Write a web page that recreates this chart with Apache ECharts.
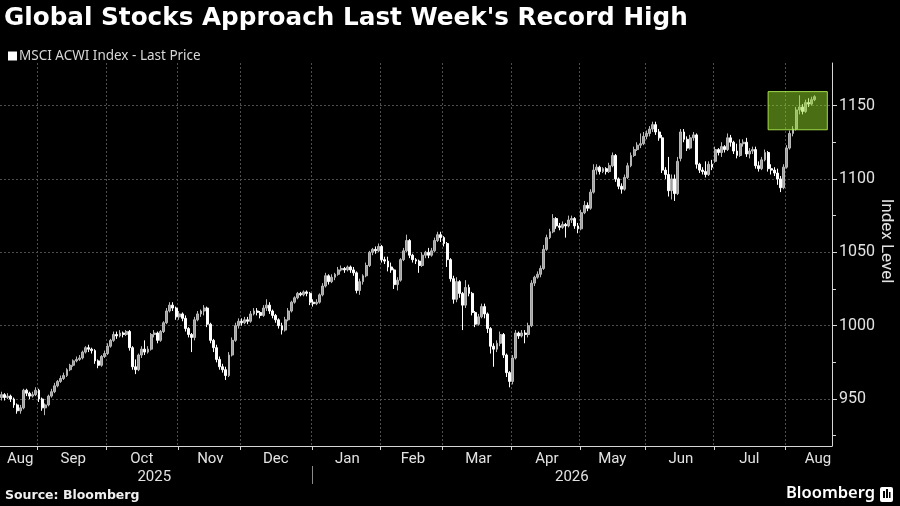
<!DOCTYPE html>
<html>
<head>
<meta charset="utf-8">
<title>Global Stocks Approach Last Week's Record High</title>
<script src="https://cdn.jsdelivr.net/npm/echarts@6/dist/echarts.min.js"></script>
<style>
    html, body { margin: 0; padding: 0; background: #000; }
    #chart { width: 900px; height: 506px; }
</style>
</head>
<body>
<div id="chart"></div>
<script>
// one row per trading day: [open, close, low, high]
var aug25 = [[951,953,949,955],[953,951,949,954],[951,952,950,954],[952,950,948,953],[950,946,944,951],[946,942,940,947],[942,944,940,946],[944,956,943,957],[956,954,952,957],[954,952,950,955],[952,953,951,955],[953,956,952,958]];
var sep25 = [[956,950,948,957],[950,944,942,951],[944,946,939,947],[946,952,945,953],[952,955,951,957],[955,959,954,961],[959,962,958,963],[962,964,961,966],[964,966,963,968],[966,970,965,971],[970,973,969,974],[973,976,972,977],[976,977,975,979],[977,978,976,980],[978,982,977,983],[982,985,981,986],[985,984,982,987],[984,983,981,985],[983,976,974,984],[976,973,971,977],[973,979,972,980],[979,981,978,983]];
var oct25 = [[981,986,980,988],[986,990,985,991],[990,994,989,996],[994,993,991,996],[993,995,992,997],[995,994,992,996],[994,996,993,997],[996,985,983,997],[985,972,970,986],[972,970,967,977],[970,980,969,981],[980,984,978,986],[984,982,980,990],[982,984,981,986],[984,994,983,995],[994,995,992,997],[995,990,988,996],[990,996,989,997],[996,1002,995,1003],[1002,1010,1001,1012],[1010,1014,1009,1016],[1014,1012,1010,1016],[1012,1006,1004,1013]];
var nov25 = [[1006,1008,1004,1010],[1008,1005,1003,1009],[1005,998,996,1007],[998,994,992,999],[994,992,982,995],[992,1004,990,1006],[1004,1008,1003,1010],[1008,1010,1006,1011],[1010,1012,1007,1014],[1012,1001,999,1013],[1001,990,988,1002],[990,985,982,991],[985,977,975,987],[977,972,970,979],[972,970,968,974],[970,966,963,972],[966,980,965,982],[980,990,979,992],[990,1000,989,1002],[1000,1003,998,1005]];
var dec25 = [[1003,1002,1000,1005],[1002,1004,1001,1006],[1004,1003,1001,1006],[1003,1008,1002,1010],[1008,1010,1007,1012],[1010,1009,1007,1012],[1009,1007,1005,1010],[1007,1012,1006,1014],[1012,1014,1010,1018],[1014,1010,1008,1016],[1010,1007,1005,1011],[1007,1004,1002,1008],[1004,1000,998,1005],[1000,997,994,1002],[997,1004,996,1006],[1004,1010,1003,1012],[1010,1016,1009,1017],[1016,1019,1015,1020],[1019,1022,1018,1023],[1022,1021,1020,1023],[1021,1023,1020,1024],[1023,1022,1020,1024],[1022,1016,1014,1023]];
var jan26 = [[1016,1015,1013,1018],[1015,1016,1014,1018],[1016,1021,1015,1022],[1021,1027,1020,1029],[1027,1034,1026,1036],[1034,1030,1028,1035],[1030,1033,1029,1035],[1033,1035,1031,1036],[1035,1038,1034,1040],[1038,1039,1037,1041],[1039,1038,1036,1040],[1038,1040,1037,1041],[1040,1038,1036,1041],[1038,1036,1034,1040],[1036,1024,1022,1037],[1024,1030,1021,1032],[1030,1034,1028,1035],[1034,1041,1033,1043],[1041,1050,1040,1051],[1050,1052,1048,1053],[1052,1051,1049,1054],[1051,1054,1050,1056]];
var feb26 = [[1054,1045,1043,1055],[1045,1044,1042,1047],[1044,1040,1037,1047],[1040,1038,1036,1043],[1038,1028,1025,1039],[1028,1031,1024,1033],[1031,1045,1030,1046],[1045,1051,1044,1053],[1051,1058,1050,1062],[1058,1048,1046,1059],[1048,1045,1043,1049],[1045,1044,1042,1046],[1044,1041,1036,1045],[1041,1048,1040,1050],[1048,1050,1046,1051],[1050,1048,1046,1053],[1048,1051,1047,1053],[1051,1058,1050,1060],[1058,1062,1057,1064],[1062,1060,1057,1064]];
var mar26 = [[1060,1056,1054,1061],[1056,1045,1040,1057],[1045,1032,1030,1046],[1032,1018,1015,1034],[1018,1030,1016,1033],[1030,1022,1019,1031],[1022,1014,997,1023],[1014,1026,1012,1031],[1026,1022,1020,1028],[1022,1009,1007,1023],[1009,1001,999,1010],[1001,1006,1000,1008],[1006,1013,1005,1015],[1013,1008,1005,1015],[1008,998,995,1009],[998,986,981,999],[986,984,972,988],[984,988,982,990],[988,994,986,996],[994,980,978,995],[980,968,965,981],[968,962,958,969]];
var apr26 = [[962,978,960,980],[978,995,977,997],[995,993,991,996],[993,995,992,997],[995,994,988,997],[994,1000,992,1002],[1000,1029,999,1031],[1029,1033,1027,1034],[1033,1035,1032,1037],[1035,1039,1033,1041],[1039,1052,1038,1055],[1052,1060,1051,1062],[1060,1064,1059,1066],[1064,1073,1063,1076],[1073,1068,1066,1074],[1068,1067,1065,1070],[1067,1069,1066,1071],[1069,1068,1060,1070],[1068,1072,1067,1075],[1072,1073,1070,1075],[1073,1068,1066,1074],[1068,1066,1063,1070]];
var may26 = [[1066,1077,1065,1079],[1077,1082,1076,1085],[1082,1080,1078,1084],[1080,1091,1079,1093],[1091,1106,1090,1110],[1106,1108,1103,1110],[1108,1105,1103,1109],[1105,1107,1104,1108],[1107,1105,1103,1108],[1105,1109,1104,1111],[1109,1116,1108,1118],[1116,1100,1098,1117],[1100,1095,1093,1101],[1095,1093,1090,1097],[1093,1101,1092,1103],[1101,1109,1100,1111],[1109,1116,1108,1118],[1116,1120,1115,1122],[1120,1123,1119,1125],[1123,1124,1121,1131],[1124,1129,1123,1132]];
var jun26 = [[1129,1131,1127,1133],[1131,1134,1129,1136],[1134,1137,1132,1139],[1137,1132,1130,1139],[1132,1128,1126,1134],[1128,1106,1104,1130],[1106,1103,1100,1108],[1103,1092,1088,1115],[1092,1100,1086,1103],[1100,1090,1085,1103],[1090,1112,1089,1115],[1114,1132,1112,1134],[1132,1127,1125,1134],[1127,1121,1119,1129],[1121,1128,1120,1130],[1128,1130,1126,1132],[1130,1110,1107,1131],[1110,1106,1104,1111],[1106,1105,1103,1108],[1105,1103,1101,1112],[1103,1110,1102,1112],[1110,1108,1106,1113]];
var jul26 = [[1112,1120,1111,1122],[1120,1118,1116,1121],[1118,1122,1115,1125],[1122,1120,1118,1123],[1120,1128,1119,1131],[1128,1125,1122,1130],[1125,1119,1117,1126],[1119,1116,1114,1124],[1116,1124,1115,1127],[1124,1125,1122,1127],[1125,1117,1115,1128],[1117,1119,1114,1121],[1119,1120,1117,1122],[1120,1109,1107,1122],[1109,1107,1105,1112],[1107,1113,1106,1115],[1113,1118,1112,1120],[1118,1107,1105,1119],[1107,1106,1103,1110],[1106,1104,1102,1108],[1104,1100,1096,1107],[1100,1094,1091,1102],[1094,1108,1093,1110]];
var aug26 = [[1108,1121,1107,1123],[1121,1131,1120,1133],[1131,1134,1129,1136],[1134,1147,1133,1149],[1147,1149,1144,1157],[1149,1146,1144,1151],[1146,1152,1145,1154],[1152,1151,1149,1155],[1151,1154,1150,1156],[1154,1156,1153,1157]];

var months = [aug25, sep25, oct25, nov25, dec25, jan26, feb26, mar26, apr26, may26, jun26, jul26, aug26];
var monthNames = ['Aug', 'Sep', 'Oct', 'Nov', 'Dec', 'Jan', 'Feb', 'Mar', 'Apr', 'May', 'Jun', 'Jul', 'Aug'];
var monthYears = ['2025', '2025', '2025', '2025', '2025', '2026', '2026', '2026', '2026', '2026', '2026', '2026', '2026'];
// trading days of each month on the axis (the last one is the full month)
var monthDays = [12, 22, 23, 20, 23, 22, 20, 22, 22, 21, 22, 23, 21];
var axisDays = 267;

var yTicks = [950, 1000, 1050, 1100, 1150];
var yMinorTicks = [925, 975, 1025, 1075, 1125];
var yMin = 918;
var yMax = 1179;

// the highlighted box: trading day indexes and index levels
var boxDays = [246, 265];
var boxLevels = [1133.5, 1159.5];

var seriesName = 'MSCI ACWI Index - Last Price';

// build categories and label positions
var categories = [];
var candles = [];
var monthStarts = [];
var monthStart = {};
var monthMid = {};
var yearSpan = {};
var pos = 0;
months.forEach(function (rows, m) {
    if (pos > 0 && pos < axisDays) {
        monthStart[pos] = true;
        monthStarts.push(pos);
    }
    monthMid[pos + Math.floor(monthDays[m] / 2)] = monthNames[m];
    for (var d = 0; d < monthDays[m]; d++) {
        var idx = pos + d;
        categories.push(monthNames[m] + ' ' + monthYears[m] + ' #' + (d + 1));
        if (idx < axisDays) {
            var y = monthYears[m];
            if (!yearSpan[y]) {
                yearSpan[y] = [idx, idx];
            }
            yearSpan[y][1] = idx;
        }
    }
    candles = candles.concat(rows);
    for (var e = rows.length; e < monthDays[m]; e++) {
        candles.push('-');
    }
    pos += monthDays[m];
});

var yearMid = {};
var yearStarts = [];
Object.keys(yearSpan).forEach(function (y) {
    var s = yearSpan[y];
    yearMid[Math.floor((s[0] + s[1]) / 2)] = y;
    if (s[0] > 0) {
        yearStarts.push(s[0]);
    }
});

var axisColor = '#d6d6d6';
var gridColor = '#4d4d4d';
var labelColor = '#e2e2e2';
var font = 'Roboto';

var chart = echarts.init(document.getElementById('chart'));

var option = {
    backgroundColor: '#000',
    animation: false,
    title: [
        {
            text: "Global Stocks Approach Last Week's Record High",
            left: 4,
            top: 6,
            padding: 0,
            textStyle: {color: '#fff', fontSize: 24.7, fontWeight: 'bold', fontFamily: 'DejaVu Sans'}
        },
        {
            text: 'Source: Bloomberg',
            left: 5,
            top: 489,
            padding: 0,
            textStyle: {color: '#f0f0f0', fontSize: 12.5, fontWeight: 'bold', fontFamily: 'DejaVu Sans'}
        }
    ],
    legend: {
        left: 3,
        top: 44,
        icon: 'rect',
        itemWidth: 9,
        itemHeight: 9,
        itemGap: 4,
        selectedMode: false,
        itemStyle: {color: '#fff', borderWidth: 0},
        textStyle: {color: '#d8d8d8', fontSize: 13.5, fontFamily: 'Noto Sans', padding: [0, 0, 0, -3]},
        data: [seriesName]
    },
    grid: {left: 0, right: 68, top: 63, bottom: 60, containLabel: false, outerBoundsMode: 'none'},
    xAxis: [
        {
            type: 'category',
            data: categories,
            max: axisDays - 1,
            boundaryGap: true,
            axisLine: {show: true, lineStyle: {color: axisColor, width: 1}},
            axisTick: {show: false},
            axisLabel: {
                interval: function (index) { return monthMid[index] !== undefined; },
                formatter: function (value, index) { return monthMid[index] || ''; },
                color: labelColor,
                fontSize: 15,
                fontFamily: font,
                margin: 6
            },
            splitLine: {
                show: true,
                interval: function (index) { return monthStart[index] === true; },
                lineStyle: {color: gridColor, type: [2, 2], width: 1}
            }
        },
        {
            type: 'category',
            data: categories,
            max: axisDays - 1,
            position: 'bottom',
            offset: 20,
            boundaryGap: true,
            axisLine: {show: false},
            axisTick: {show: false},
            axisLabel: {
                interval: function (index) { return yearMid[index] !== undefined; },
                formatter: function (value, index) { return yearMid[index] || ''; },
                color: labelColor,
                fontSize: 15,
                fontFamily: font,
                margin: 4
            },
            splitLine: {show: false}
        }
    ],
    yAxis: [
        {
            type: 'value',
            position: 'right',
            min: yMin,
            max: yMax,
            axisLine: {show: true, lineStyle: {color: axisColor, width: 1}},
            axisTick: {show: true, length: 5, customValues: yTicks, lineStyle: {color: axisColor}},
            axisLabel: {
                customValues: yTicks,
                formatter: function (value) { return String(value); },
                color: labelColor,
                fontSize: 16,
                fontFamily: font,
                margin: 7
            },
            splitLine: {show: true, lineStyle: {color: gridColor, type: [2, 2], width: 1}},
            name: 'Index Level',
            nameLocation: 'middle',
            nameRotate: -90,
            nameGap: 46,
            nameMoveOverlap: false,
            nameTextStyle: {color: labelColor, fontSize: 17, fontFamily: font, padding: [0, 27, 0, 0]}
        },
        {
            type: 'value',
            position: 'right',
            min: yMin,
            max: yMax,
            axisLine: {show: false},
            axisTick: {show: true, length: 4, customValues: yMinorTicks, lineStyle: {color: axisColor}},
            axisLabel: {show: false},
            splitLine: {show: false}
        }
    ],
    series: [
        {
            name: seriesName,
            type: 'candlestick',
            data: candles,
            barWidth: 2.4,
            itemStyle: {
                color: '#a0a0a0',
                color0: '#ffffff',
                borderColor: '#b8b8b8',
                borderColor0: '#ffffff',
                borderWidth: 1
            },
            markArea: {
                silent: true,
                z: 10,
                itemStyle: {
                    color: 'rgba(148, 220, 40, 0.5)',
                    borderColor: 'rgba(175, 235, 80, 0.9)',
                    borderWidth: 1
                },
                data: [[
                    {xAxis: categories[boxDays[0]], yAxis: boxLevels[1]},
                    {xAxis: categories[boxDays[1]], yAxis: boxLevels[0]}
                ]]
            }
        }
    ],
    graphic: [
        {
            type: 'text',
            left: 786,
            top: 485,
            style: {text: 'Bloomberg', fill: '#fff', font: '600 16.5px "Noto Sans"'}
        },
        {
            type: 'group',
            left: 880,
            top: 487,
            children: [
                {type: 'rect', shape: {x: 0, y: 0, width: 13, height: 15, r: 2}, style: {fill: '#fff'}},
                {type: 'rect', shape: {x: 3, y: 4, width: 2, height: 7}, style: {fill: '#000'}},
                {type: 'rect', shape: {x: 6, y: 2, width: 2, height: 9}, style: {fill: '#000'}},
                {type: 'rect', shape: {x: 9, y: 5, width: 1.5, height: 6}, style: {fill: '#000'}}
            ]
        }
    ]
};

chart.setOption(option);

// month ticks and the year separator, placed at band boundaries through the x scale
var x0 = chart.convertToPixel({xAxisIndex: 0}, categories[0]);
var band = chart.convertToPixel({xAxisIndex: 0}, categories[1]) - x0;
var axisY = chart.convertToPixel({yAxisIndex: 0}, yMin);
function boundaryX(index) {
    return Math.round(chart.convertToPixel({xAxisIndex: 0}, categories[index]) - band / 2) + 0.5;
}
var marks = [];
monthStarts.forEach(function (index) {
    var x = boundaryX(index);
    marks.push({
        type: 'line', silent: true,
        shape: {x1: x, y1: axisY, x2: x, y2: axisY + 4},
        style: {stroke: axisColor, lineWidth: 1}
    });
});
yearStarts.forEach(function (index) {
    var x = boundaryX(index);
    marks.push({
        type: 'line', silent: true,
        shape: {x1: x, y1: axisY + 20, x2: x, y2: axisY + 38},
        style: {stroke: '#8a8a8a', lineWidth: 1}
    });
});
chart.setOption({graphic: option.graphic.concat(marks)});
</script>
</body>
</html>
